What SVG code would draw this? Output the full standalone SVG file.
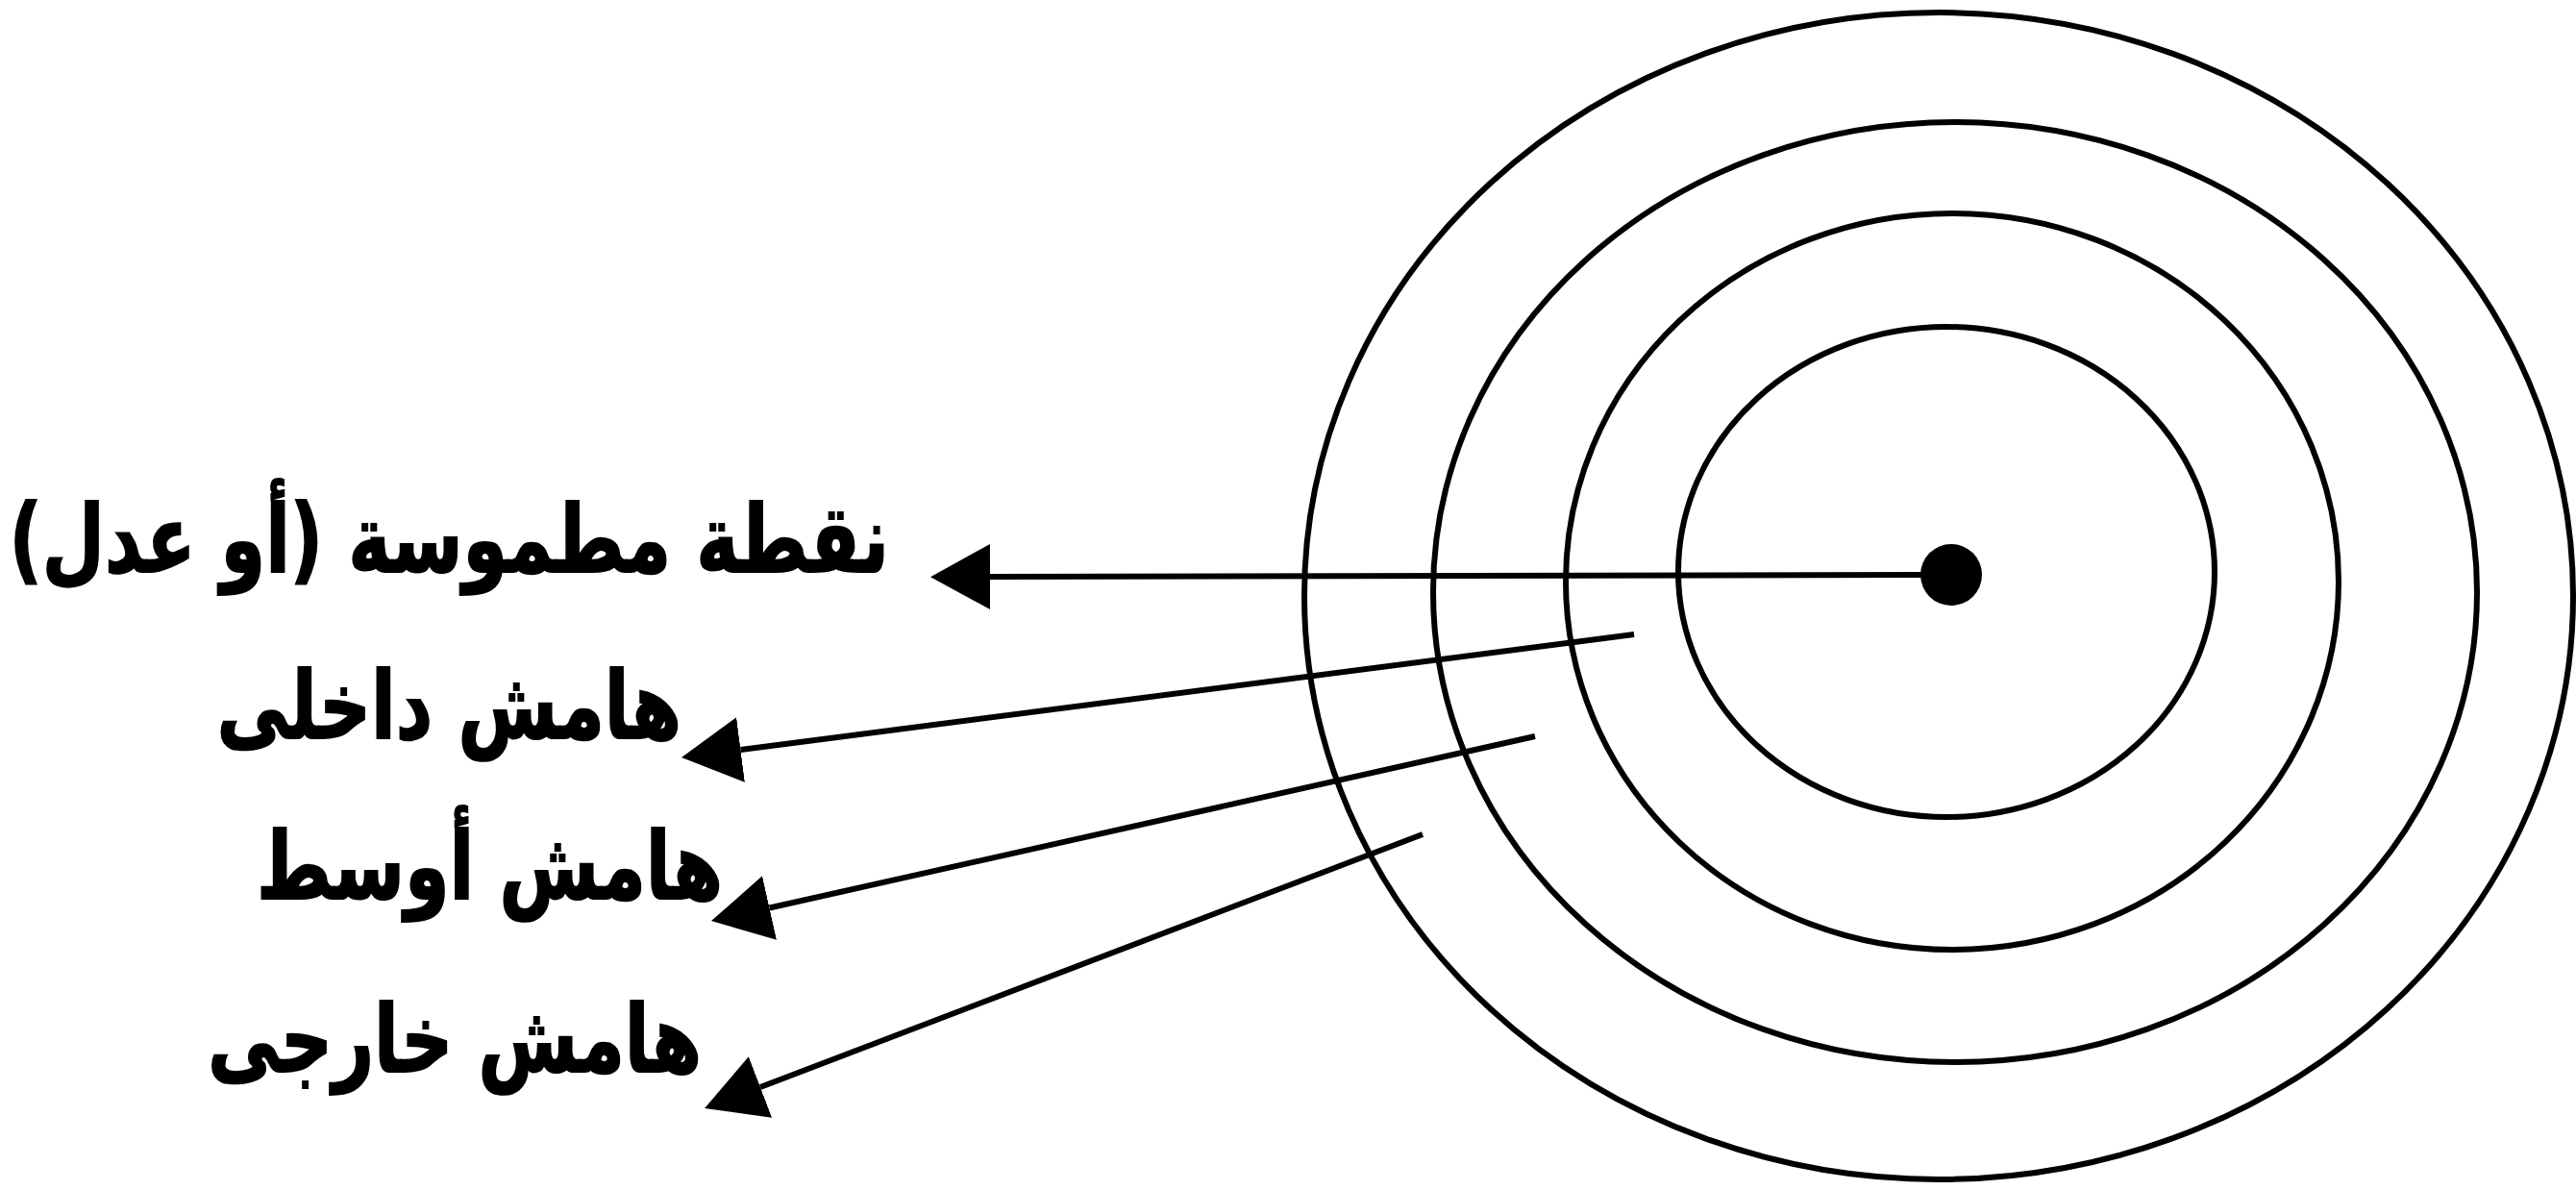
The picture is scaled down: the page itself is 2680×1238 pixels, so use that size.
<svg xmlns="http://www.w3.org/2000/svg" width="2680" height="1238" viewBox="0 0 2680 1238">
<style>
.ring{fill:none;stroke:#000;stroke-width:6}
.conn{fill:none;stroke:#000;stroke-width:6}
.lbl{font-family:"DejaVu Sans",sans-serif;font-weight:bold;font-size:75px;fill:#000;stroke:#000;stroke-width:1.5;direction:rtl}
</style>
<defs>
<marker id="ah" markerUnits="userSpaceOnUse" markerWidth="62" markerHeight="68" refX="0" refY="34" orient="auto" viewBox="0 0 62 68">
<path d="M0,0 L62,34 L0,68 Z" fill="#000"/>
</marker>
</defs>
<rect width="2680" height="1238" fill="#fff"/>
<g id="rings">
<ellipse id="ring-outer" class="ring" cx="2017" cy="620" rx="660" ry="607"/>
<ellipse id="ring-2" class="ring" cx="2034" cy="616" rx="543" ry="489"/>
<ellipse id="ring-3" class="ring" cx="2031" cy="605" rx="402" ry="383"/>
<ellipse id="ring-inner" class="ring" cx="2025" cy="595" rx="279" ry="255"/>
</g>
<g id="center-dot"><circle cx="2030" cy="598" r="32" fill="#000"/></g>
<g id="connectors">
<line class="conn" x1="2000" y1="598" x2="1030" y2="600" marker-end="url(#ah)"/>
<line class="conn" x1="1700" y1="660" x2="770.5" y2="780" marker-end="url(#ah)"/>
<line class="conn" x1="1597" y1="766" x2="800.5" y2="944.5" marker-end="url(#ah)"/>
<line class="conn" x1="1480" y1="868" x2="791" y2="1131" marker-end="url(#ah)"/>
</g>
<g id="label-point"><text class="lbl" transform="translate(925,595) scale(1,1.3)">نقطة مطموسة (أو عدل)</text></g>
<g id="label-inner"><text class="lbl" transform="translate(709,768) scale(1,1.3)">هامش داخلى</text></g>
<g id="label-middle"><text class="lbl" transform="translate(752,935) scale(1,1.3)">هامش أوسط</text></g>
<g id="label-outer"><text class="lbl" transform="translate(730,1115) scale(1,1.3)">هامش خارجى</text></g>
</svg>
